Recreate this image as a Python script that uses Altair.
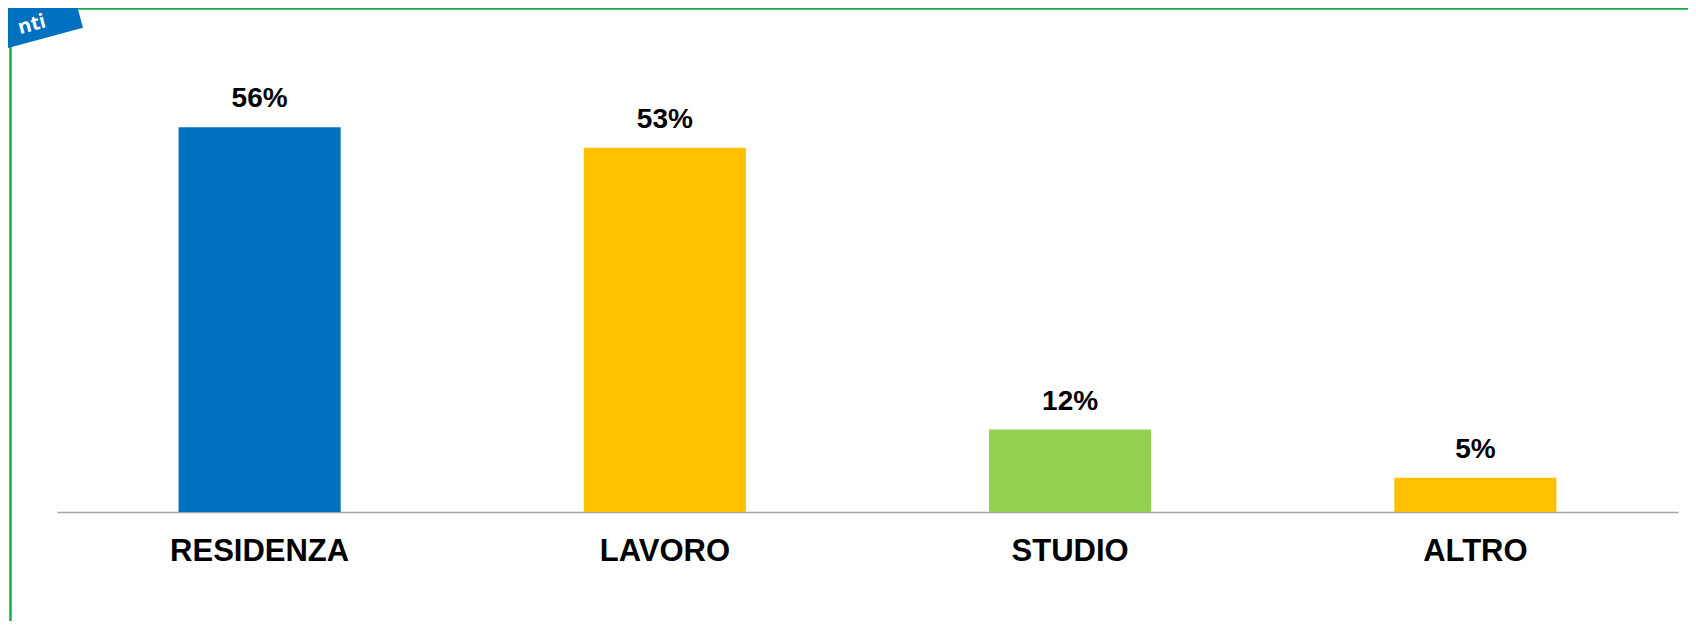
import altair as alt
import pandas as pd

categories = ["RESIDENZA", "LAVORO", "STUDIO", "ALTRO"]
values = [56, 53, 12, 5]
labels = ["56%", "53%", "12%", "5%"]
colors = ["#0070C0", "#FFC000", "#92D050", "#FFC000"]

df = pd.DataFrame({"cat": categories, "val": values, "lab": labels, "col": colors})

FONT = "Liberation Sans"

x_enc = alt.X(
    "cat:N",
    sort=categories,
    scale=alt.Scale(paddingInner=0.6, paddingOuter=0.3),
    axis=alt.Axis(
        title=None,
        labelAngle=0,
        labelFont=FONT,
        labelFontSize=31,
        labelFontWeight="bold",
        labelColor="#000000",
        labelPadding=24,
        ticks=False,
        tickSize=0,
        domainColor="#a6a6a6",
        domainWidth=1.5,
        grid=False,
    ),
)
y_enc = alt.Y("val:Q", scale=alt.Scale(domain=[0, 70], nice=False), axis=None)

base = alt.Chart(df)

bars = base.mark_bar().encode(
    x=x_enc,
    y=y_enc,
    color=alt.Color("col:N", scale=None, legend=None),
)

text = base.mark_text(
    font=FONT, fontSize=28, fontWeight="bold", color="#000000",
    baseline="alphabetic", dy=-20,
).encode(x=alt.X("cat:N", sort=categories), y="val:Q", text="lab:N")

one = alt.Chart(pd.DataFrame({"a": [0]}))

green = "#14B04C"
top_line = one.mark_rule(color=green, strokeWidth=2.5).encode(
    x=alt.value(-49), x2=alt.value(1635), y=alt.value(-22.5)
)
left_line = one.mark_rule(color=green, strokeWidth=2.5).encode(
    x=alt.value(-46.5), y=alt.value(-25), y2=alt.value(600)
)

box_path = "M-1,-0.2333H1V0.2333H-1Z"
box = one.mark_point(
    shape=box_path, filled=True, color="#0070C0", opacity=1, angle=345, size=96000,
    strokeWidth=0,
).encode(x=alt.value(-133), y=alt.value(2))

corner_text = one.mark_text(
    font="Open Sans", fontSize=20, fontWeight="bold", color="#FFFFFF",
    align="right", baseline="alphabetic", angle=345,
).encode(x=alt.value(-10), y=alt.value(-4), text=alt.value("nti"))

chart = alt.layer(top_line, left_line, bars, text, box, corner_text).properties(
    width=1621,
    height=481,
    autosize=alt.AutoSizeParams(type="none"),
    padding={"left": 49, "top": 23, "right": 10, "bottom": 109},
    background="#ffffff",
).configure_view(strokeWidth=0, stroke=None)

chart.save("out.html", embed_options={"renderer": "svg", "actions": False})
